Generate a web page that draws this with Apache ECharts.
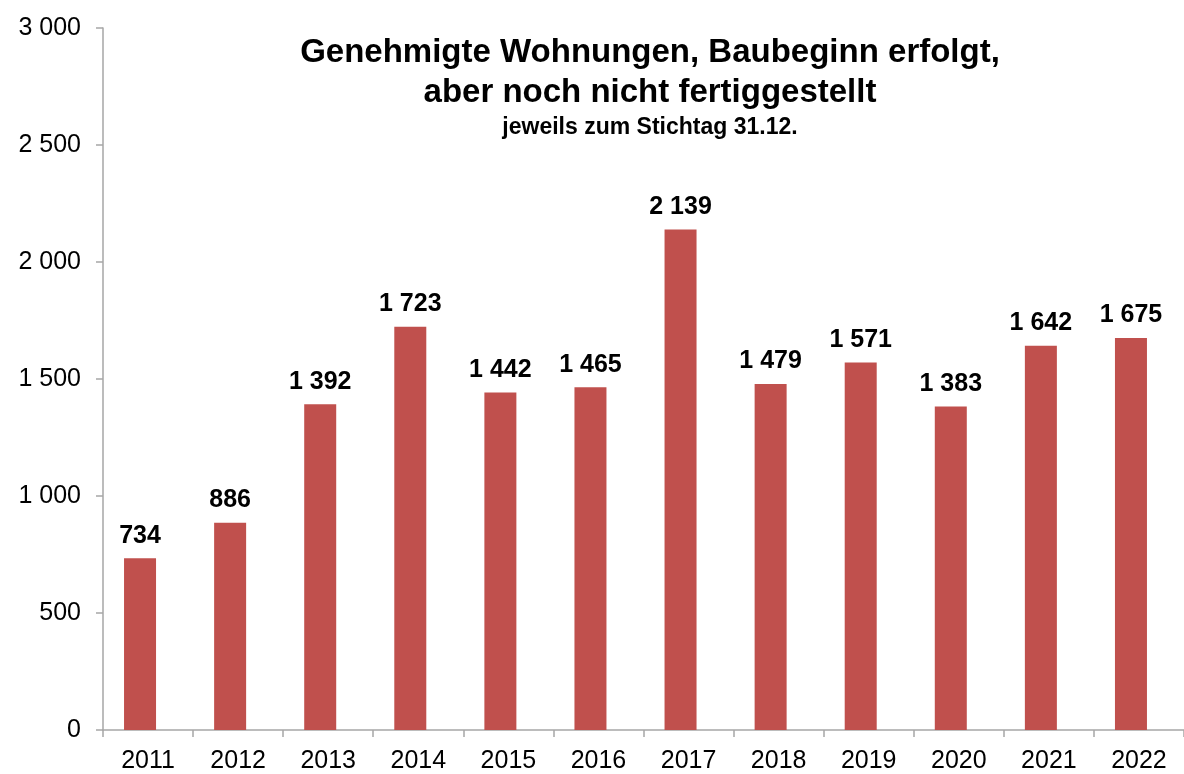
<!DOCTYPE html>
<html>
<head>
<meta charset="utf-8">
<script src="https://cdn.jsdelivr.net/npm/echarts@6/dist/echarts.min.js"></script>
<style>
    html, body { margin: 0; padding: 0; background: #fff; }
    #chart { width: 1184px; height: 774px; }
</style>
</head>
<body>
<div id="chart"></div>
<script>
const years = ['2011', '2012', '2013', '2014', '2015', '2016', '2017', '2018', '2019', '2020', '2021', '2022'];
const flats = [734, 886, 1392, 1723, 1442, 1465, 2139, 1479, 1571, 1383, 1642, 1675];
const yTicks = [0, 500, 1000, 1500, 2000, 2500, 3000];

// thousands with a space, like "1 723"
function fmt(v) {
    return String(v).replace(/\B(?=(\d{3})+(?!\d))/g, ' ');
}

let chart = echarts.init(document.getElementById('chart'));
const FONT = '"Liberation Sans", Arial, sans-serif';
const AXIS_GREY = '#a6a6a6';

chart.setOption({
    backgroundColor: '#fff',
    animation: false,
    textStyle: { fontFamily: FONT },
    title: {
        text: 'Genehmigte Wohnungen, Baubeginn erfolgt,\naber noch nicht fertiggestellt',
        subtext: 'jeweils zum Stichtag 31.12.',
        left: 645,
        top: 28,
        textAlign: 'center',
        itemGap: 3,
        textStyle: {
            fontFamily: FONT,
            fontSize: 33,
            fontWeight: 'bold',
            color: '#000',
            lineHeight: 40
        },
        subtextStyle: {
            fontFamily: FONT,
            fontSize: 23,
            fontWeight: 'bold',
            color: '#000'
        }
    },
    grid: {
        left: 103,
        right: -15,
        top: 28,
        bottom: 43
    },
    xAxis: {
        type: 'category',
        data: years,
        axisLine: { lineStyle: { color: AXIS_GREY, width: 1.5 } },
        axisTick: { show: true, length: 7, lineStyle: { color: AXIS_GREY, width: 1.5 } },
        axisLabel: {
            color: '#000',
            fontSize: 25,
            margin: 19
        }
    },
    yAxis: {
        type: 'value',
        min: yTicks[0],
        max: yTicks[yTicks.length - 1],
        interval: 500,
        splitLine: { show: false },
        axisLine: { show: true, lineStyle: { color: AXIS_GREY, width: 1.5 } },
        axisTick: { show: true, length: 7, lineStyle: { color: AXIS_GREY, width: 1.5 } },
        axisLabel: {
            color: '#000',
            fontSize: 25,
            margin: 22,
            formatter: function (v) { return fmt(v); }
        }
    },
    series: [{
        type: 'bar',
        data: flats,
        barWidth: 32,
        barGap: 0,
        itemStyle: { color: '#c0504d' },
        label: {
            show: true,
            position: 'top',
            distance: 10,
            color: '#000',
            fontSize: 25,
            fontWeight: 'bold',
            formatter: function (p) { return fmt(p.value); }
        }
    }, {
        // empty slot so the bars sit a little left of the category centre, like the original
        type: 'bar',
        data: [],
        barWidth: 16,
        silent: true
    }]
});
</script>
</body>
</html>
